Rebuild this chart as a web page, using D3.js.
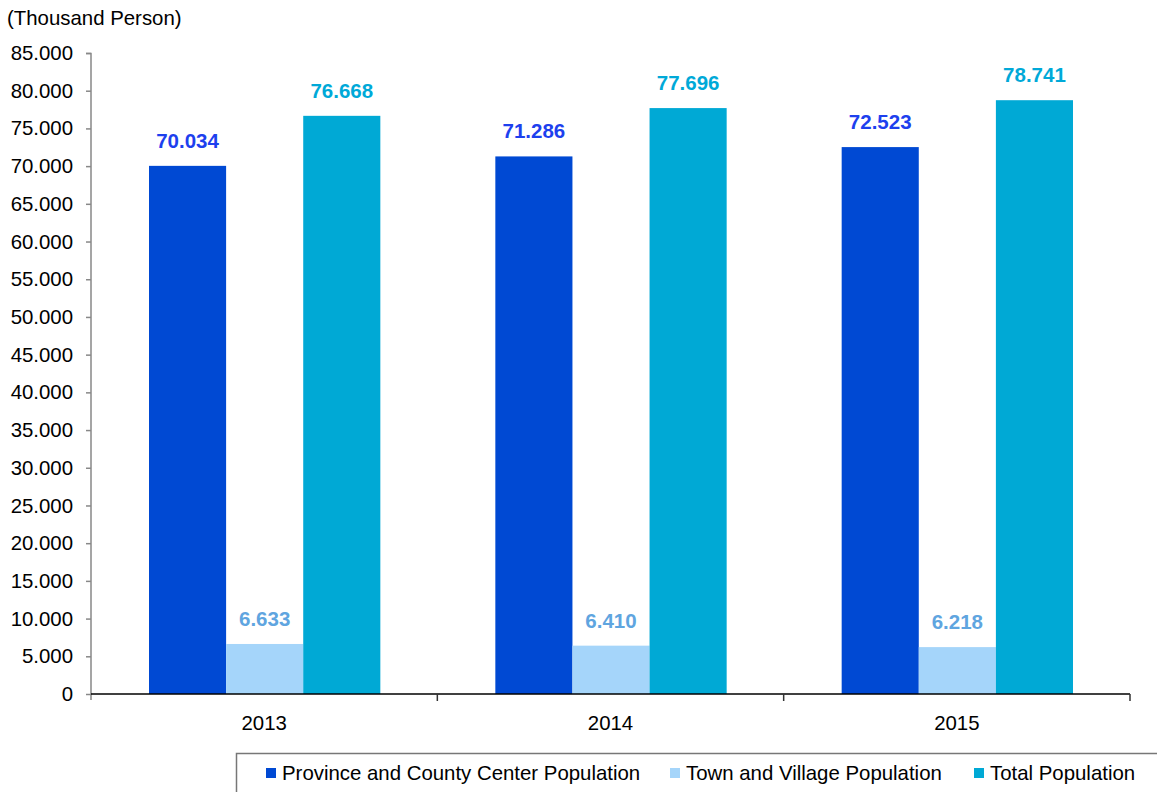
<!DOCTYPE html>
<html><head><meta charset="utf-8">
<script src="https://cdn.jsdelivr.net/npm/d3@7"></script>
<style>body{margin:0;background:#fff;} svg{display:block;font-family:"Liberation Sans",Arial,sans-serif;}</style>
</head><body><svg id="c" width="1157" height="792"></svg>
<script>
const categories = ["2013","2014","2015"];
const seriesNames = ["Province and County Center Population","Town and Village Population","Total Population"];
const provinceValues = [70.034, 71.286, 72.523];
const townValues = [6.633, 6.410, 6.218];
const totalValues = [76.668, 77.696, 78.741];
const yTicks = [0,5,10,15,20,25,30,35,40,45,50,55,60,65,70,75,80,85];
const barColors = ["#0049D3","#A5D5FA","#00A9D5"];
const labelColors = ["#1D40EE","#5FA5E0","#00A9D8"];

const series = [provinceValues, townValues, totalValues];
const svg = d3.select("#c");
const x = d3.scaleBand().domain(categories).range([91,1130]).paddingInner(0).paddingOuter(0);
const y = d3.scaleLinear().domain([0,85]).range([694,53]);
const xi = d3.scaleBand().domain(d3.range(3)).range([58, x.bandwidth()-57]);

// y axis
const yAxis = svg.append("g").attr("transform","translate(91,0)")
  .call(d3.axisLeft(y).tickValues(yTicks).tickSize(5).tickPadding(13)
    .tickFormat(d => d===0 ? "0" : d3.format(".3f")(d)));
yAxis.select(".domain").attr("stroke","#888").attr("stroke-width",1.5).attr("d","M-5,53.5H0V700");
yAxis.selectAll(".tick line").attr("stroke","#888").attr("stroke-width",1.5);
yAxis.selectAll(".tick text").attr("font-size",20.4).attr("fill","#000").attr("font-family","Liberation Sans, Arial, sans-serif");

// bars
categories.forEach((c,i)=>{
  const g = svg.append("g").attr("transform",`translate(${x(c)},0)`);
  series.forEach((vals,s)=>{
    g.append("rect").attr("x",xi(s)).attr("width",xi.bandwidth())
      .attr("y",y(vals[i])).attr("height",y(0)-y(vals[i])).attr("fill",barColors[s]);
    g.append("text").attr("x",xi(s)+xi.bandwidth()/2).attr("y",y(vals[i])-18)
      .attr("text-anchor","middle").attr("font-size",20.5).attr("font-weight","bold")
      .attr("fill",labelColors[s]).text(d3.format(".3f")(vals[i]));
  });
});

// x axis
const xAxis = svg.append("g").attr("transform","translate(0,694)")
  .call(d3.axisBottom(x).tickSize(0).tickPadding(22));
xAxis.select(".domain").attr("stroke","#000").attr("stroke-width",1.5).attr("d","M91,0H1130");
xAxis.selectAll(".tick text").attr("font-size",20.4).attr("fill","#000").attr("font-family","Liberation Sans, Arial, sans-serif");
categories.forEach(c=>{
  svg.append("line").attr("x1",x(c)+x.bandwidth()).attr("x2",x(c)+x.bandwidth())
    .attr("y1",694).attr("y2",701).attr("stroke","#333").attr("stroke-width",1.5);
});

// title
svg.append("text").attr("x",7).attr("y",25).attr("font-size",20.4).attr("fill","#000").text("(Thousand Person)");

// legend
svg.append("rect").attr("x",236.5).attr("y",753.5).attr("width",940).attr("height",60)
  .attr("fill","none").attr("stroke","#777").attr("stroke-width",1.5);
const legX = [266, 670, 974];
seriesNames.forEach((n,s)=>{
  svg.append("rect").attr("x",legX[s]).attr("y",768).attr("width",10).attr("height",10).attr("fill",barColors[s]);
  svg.append("text").attr("x",legX[s]+16).attr("y",780).attr("font-size",20.4).attr("fill","#000").text(n);
});
</script></body></html>
